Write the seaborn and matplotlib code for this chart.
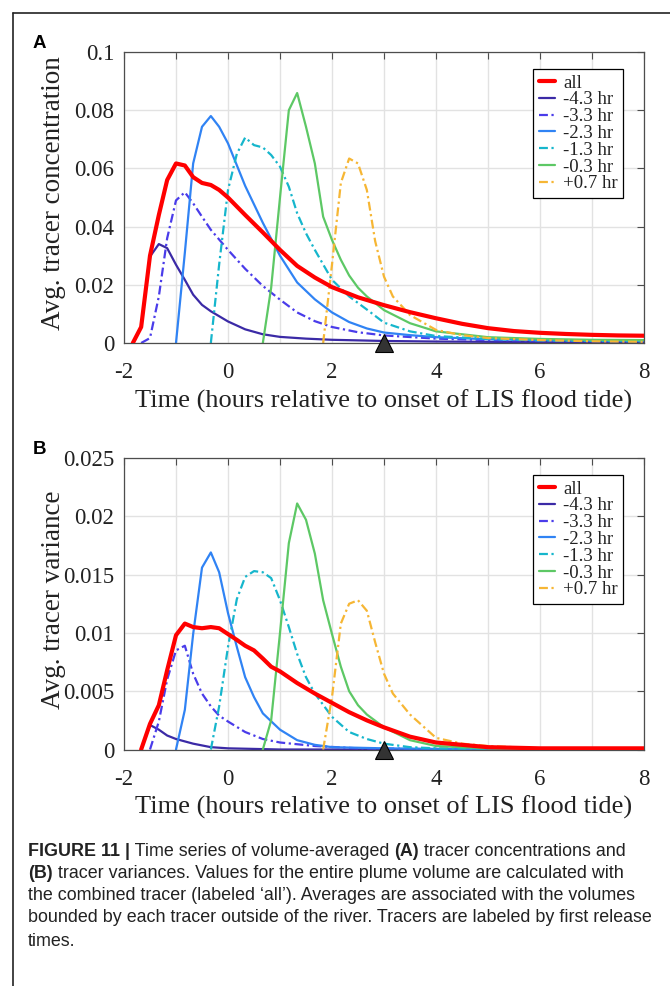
import matplotlib
matplotlib.use("Agg")
import matplotlib.pyplot as plt
from matplotlib.lines import Line2D
import seaborn as sns
import numpy as np

# ---------------- data ----------------
series_labels = ["all", "-4.3 hr", "-3.3 hr", "-2.3 hr", "-1.3 hr", "-0.3 hr", "+0.7 hr"]

# Panel A: Avg. tracer concentration
A_all_t = [-1.83, -1.67, -1.5, -1.33, -1.17, -1.0, -0.83, -0.67, -0.5, -0.33, -0.17, 0.0, 0.33, 0.67, 1.0,
           1.33, 1.67, 2.0, 2.5, 3.0, 3.5, 4.0, 4.5, 5.0, 5.5, 6.0, 6.5, 7.0, 7.5, 8.0]
A_all_y = [0.0, 0.0055, 0.030, 0.044, 0.056, 0.0617, 0.061, 0.057, 0.055, 0.0543, 0.0526, 0.050, 0.044, 0.038,
           0.032, 0.0265, 0.0225, 0.0192, 0.0157, 0.0130, 0.0106, 0.0085, 0.0066, 0.0051, 0.0041, 0.0035,
           0.0031, 0.0028, 0.0026, 0.0025]
A_m43_t = [-1.83, -1.67, -1.5, -1.33, -1.17, -1.0, -0.83, -0.67, -0.5, -0.33, 0.0, 0.33, 0.67, 1.0, 1.5, 2.0,
           3.0, 4.0, 5.0, 6.0, 7.0, 8.0]
A_m43_y = [0.0, 0.0054, 0.0297, 0.034, 0.0326, 0.0269, 0.0217, 0.0166, 0.0131, 0.0109, 0.0074, 0.0047, 0.0030,
           0.0021, 0.0015, 0.0011, 0.0007, 0.0005, 0.0004, 0.0003, 0.0003, 0.0002]
A_m33_t = [-1.67, -1.5, -1.33, -1.17, -1.0, -0.83, -0.67, -0.5, -0.33, 0.0, 0.33, 0.67, 1.0, 1.33, 1.67, 2.0,
           2.5, 3.0, 4.0, 5.0, 6.0, 7.0, 8.0]
A_m33_y = [0.0, 0.0017, 0.016, 0.036, 0.049, 0.0518, 0.048, 0.0434, 0.0389, 0.032, 0.0255, 0.0196, 0.0149,
           0.0105, 0.0075, 0.0055, 0.0037, 0.0026, 0.0015, 0.0010, 0.0008, 0.0007, 0.0006]
A_m23_t = [-1.0, -0.83, -0.67, -0.5, -0.33, -0.17, 0.0, 0.33, 0.67, 1.0, 1.33, 1.67, 2.0, 2.33, 2.67, 3.0, 3.5,
           4.0, 5.0, 6.0, 7.0, 8.0]
A_m23_y = [0.0, 0.031, 0.0617, 0.0743, 0.078, 0.0743, 0.0686, 0.054, 0.0413, 0.030, 0.0208, 0.0150, 0.0105,
           0.0072, 0.0050, 0.0036, 0.0027, 0.0020, 0.0013, 0.0010, 0.0009, 0.0008]
A_m13_t = [-0.33, -0.17, 0.0, 0.17, 0.33, 0.5, 0.67, 0.83, 1.0, 1.17, 1.33, 1.5, 1.67, 2.0, 2.33, 2.67, 3.0,
           3.5, 4.0, 5.0, 6.0, 7.0, 8.0]
A_m13_y = [0.0, 0.027, 0.0526, 0.065, 0.0706, 0.068, 0.0672, 0.0646, 0.0606, 0.0537, 0.0446, 0.0377, 0.032,
           0.0217, 0.0160, 0.0115, 0.0070, 0.0040, 0.0024, 0.0014, 0.0009, 0.0007, 0.0006]
A_m03_t = [0.67, 0.83, 1.0, 1.17, 1.33, 1.5, 1.67, 1.83, 2.0, 2.17, 2.33, 2.5, 2.67, 3.0, 3.5, 4.0, 5.0, 6.0,
           7.0, 8.0]
A_m03_y = [0.0, 0.019, 0.050, 0.080, 0.0859, 0.0743, 0.0617, 0.0434, 0.0354, 0.0286, 0.0232, 0.0190, 0.0160,
           0.0113, 0.0068, 0.0040, 0.0020, 0.0014, 0.0011, 0.0010]
A_p07_t = [1.83, 2.0, 2.17, 2.33, 2.5, 2.67, 2.83, 3.0, 3.17, 3.5, 4.0, 4.5, 5.0, 6.0, 7.0, 8.0]
A_p07_y = [0.0, 0.027, 0.055, 0.0634, 0.0617, 0.0526, 0.035, 0.0228, 0.016, 0.0096, 0.0045, 0.0027, 0.0017,
           0.0010, 0.0006, 0.0004]

# Panel B: Avg. tracer variance
B_all_t = [-1.67, -1.5, -1.33, -1.17, -1.0, -0.83, -0.67, -0.5, -0.33, -0.17, 0.0, 0.17, 0.33, 0.5, 0.67, 0.83,
           1.0, 1.33, 1.67, 2.0, 2.33, 2.67, 3.0, 3.5, 4.0, 5.0, 6.0, 7.0, 8.0]
B_all_y = [0.0, 0.0022, 0.0038, 0.0068, 0.0098, 0.0108, 0.0105, 0.0104, 0.0105, 0.0104, 0.0099, 0.0094, 0.0089,
           0.0085, 0.0078, 0.0071, 0.0067, 0.0057, 0.0048, 0.0040, 0.0032, 0.0025, 0.0019, 0.0011, 0.0006,
           0.0002, 0.0001, 0.0001, 0.0001]
B_m43_t = [-1.67, -1.5, -1.33, -1.17, -1.0, -0.67, -0.33, 0.0, 0.5, 1.0, 2.0, 4.0, 8.0]
B_m43_y = [0.0, 0.0021, 0.0017, 0.0012, 0.0009, 0.0005, 0.0002, 0.0001, 0.00005, 0.0, 0.0, 0.0, 0.0]
B_m33_t = [-1.5, -1.33, -1.17, -1.0, -0.83, -0.67, -0.5, -0.33, -0.17, 0.0, 0.33, 0.67, 1.0, 1.67, 2.5, 4.0, 8.0]
B_m33_y = [0.0, 0.0024, 0.006, 0.0085, 0.0089, 0.0065, 0.0048, 0.0037, 0.0029, 0.0024, 0.0015, 0.0009, 0.0006,
           0.0003, 0.0001, 0.00005, 0.0]
B_m23_t = [-1.0, -0.83, -0.67, -0.5, -0.33, -0.17, 0.0, 0.17, 0.33, 0.5, 0.67, 1.0, 1.33, 1.67, 2.0, 3.0, 4.0, 8.0]
B_m23_y = [0.0, 0.0034, 0.0099, 0.0156, 0.0169, 0.0152, 0.0117, 0.0088, 0.0062, 0.0045, 0.0031, 0.0017, 0.0008,
           0.0004, 0.0002, 0.0001, 0.00005, 0.0]
B_m13_t = [-0.33, -0.17, 0.0, 0.17, 0.33, 0.5, 0.67, 0.83, 1.0, 1.17, 1.33, 1.5, 1.67, 2.0, 2.33, 2.67, 3.0, 3.5,
           4.0, 5.0, 8.0]
B_m13_y = [0.0, 0.0037, 0.0088, 0.0129, 0.0148, 0.0153, 0.0152, 0.0147, 0.0128, 0.0105, 0.0082, 0.0062, 0.0048,
           0.0028, 0.0015, 0.0009, 0.0005, 0.0002, 0.0001, 0.00005, 0.0]
B_m03_t = [0.67, 0.83, 1.0, 1.17, 1.33, 1.5, 1.67, 1.83, 2.0, 2.17, 2.33, 2.5, 2.67, 3.0, 3.5, 4.0, 5.0, 8.0]
B_m03_y = [0.0, 0.0025, 0.010, 0.0177, 0.0211, 0.0197, 0.0168, 0.0128, 0.0099, 0.0071, 0.0050, 0.0038, 0.0030,
           0.0019, 0.0008, 0.0003, 0.0001, 0.0]
B_p07_t = [1.83, 2.0, 2.17, 2.33, 2.5, 2.67, 2.83, 3.0, 3.17, 3.5, 4.0, 4.5, 5.0, 6.0, 8.0]
B_p07_y = [0.0, 0.0045, 0.0108, 0.0125, 0.0128, 0.0119, 0.0092, 0.0065, 0.0048, 0.0030, 0.0010, 0.0005, 0.0003,
           0.0001, 0.0]

marker_time = 3.0

x_ticks = [-2, -1, 0, 1, 2, 3, 4, 5, 6, 7, 8]
x_ticklabels = ["-2", "", "0", "", "2", "", "4", "", "6", "", "8"]
A_yticks = [0, 0.02, 0.04, 0.06, 0.08, 0.1]
A_yticklabels = ["0", "0.02", "0.04", "0.06", "0.08", "0.1"]
B_yticks = [0, 0.005, 0.01, 0.015, 0.02, 0.025]
B_yticklabels = ["0", "0.005", "0.01", "0.015", "0.02", "0.025"]

panel_A = [(A_all_t, A_all_y), (A_m43_t, A_m43_y), (A_m33_t, A_m33_y), (A_m23_t, A_m23_y),
           (A_m13_t, A_m13_y), (A_m03_t, A_m03_y), (A_p07_t, A_p07_y)]
panel_B = [(B_all_t, B_all_y), (B_m43_t, B_m43_y), (B_m33_t, B_m33_y), (B_m23_t, B_m23_y),
           (B_m13_t, B_m13_y), (B_m03_t, B_m03_y), (B_p07_t, B_p07_y)]

# ---------------- style ----------------
sns.set_style("white")
plt.rcParams["font.family"] = ["Liberation Serif", "DejaVu Serif"]
plt.rcParams["axes.unicode_minus"] = False

colors = ["#ff0000", "#3b2aa6", "#4a3cea", "#3083f4", "#16b6cc", "#5dc865", "#f6b634"]
dashdot = (0, (4.0, 1.6, 1.0, 1.6))
styles = ["-", "-", dashdot, "-", dashdot, "-", dashdot]
widths = [3.0, 1.6, 1.6, 1.6, 1.6, 1.6, 1.6]
AX = "#4d4d4d"
TXT = "#222222"

W, H = 670, 986
fig = plt.figure(figsize=(W / 100, H / 100), dpi=100)


def fx(px):
    return px / W


def fy(py):
    return 1 - py / H


def make_panel(top_px, bottom_px, data, yticks, yticklabels, ylabel, letter):
    ax = fig.add_axes([fx(124), fy(bottom_px), fx(644) - fx(124), fy(top_px) - fy(bottom_px)])
    for (t, y), lab, c, ls, lw in zip(data, series_labels, colors, styles, widths):
        sns.lineplot(x=t, y=y, ax=ax, color=c, linestyle=ls, linewidth=lw, label=lab,
                     estimator=None, sort=False, zorder=3 if lab == "all" else 2)
    ax.plot([marker_time], [0], marker="^", markersize=12.5, markerfacecolor="#333333",
            markeredgecolor="black", markeredgewidth=0.8, clip_on=False, zorder=10, linestyle="none")
    ax.set_xlim(-2, 8)
    ax.set_ylim(yticks[0], yticks[-1])
    ax.set_xticks(x_ticks)
    ax.set_xticklabels(x_ticklabels)
    ax.set_yticks(yticks)
    ax.set_yticklabels(yticklabels)
    ax.grid(True, color="#e2e2e2", linewidth=1.0, zorder=0)
    ax.set_axisbelow(True)
    for s in ax.spines.values():
        s.set_color(AX)
        s.set_linewidth(0.9)
        s.set_visible(True)
    ax.tick_params(direction="in", length=5, width=0.8, color=AX, top=True, right=True,
                   labelsize=16.5, labelcolor=TXT)
    ax.tick_params(axis="y", pad=7)
    ax.tick_params(axis="x", pad=14)
    ax.set_xlabel("")
    ax.set_ylabel("")
    handles, labels = ax.get_legend_handles_labels()
    leg = ax.legend(handles, labels, loc="upper right",
                    bbox_to_anchor=(0.96, (bottom_px - (top_px + 17)) / (bottom_px - top_px)),
                    frameon=True, fancybox=False, edgecolor="black", framealpha=1, fontsize=13.5,
                    handlelength=0.9, handletextpad=0.4, labelspacing=-0.02, borderpad=0.3,
                    borderaxespad=0)
    leg.get_frame().set_linewidth(0.9)
    for txt in leg.get_texts():
        txt.set_color(TXT)
    fig.text(fx(384), fy(bottom_px + 58), "Time (hours relative to onset of LIS flood tide)",
             ha="center", va="center", fontsize=19, color=TXT)
    fig.text(fx(53), fy((top_px + bottom_px) / 2 - 4), ylabel, rotation=90, ha="center", va="center",
             fontsize=19.5, color=TXT)
    fig.text(fx(39), fy(top_px - 9), letter, ha="center", va="center", fontsize=13.5, fontweight="bold",
             family=["Liberation Sans", "DejaVu Sans"], color="black")
    return ax


axA = make_panel(52, 343, panel_A, A_yticks, A_yticklabels, "Avg. tracer concentration", "A")
axB = make_panel(458, 749.5, panel_B, B_yticks, B_yticklabels, "Avg. tracer variance", "B")

# outer frame (top and left)
fig.add_artist(Line2D([fx(13), 1], [fy(13), fy(13)], transform=fig.transFigure, color=TXT, lw=1.2))
fig.add_artist(Line2D([fx(13), fx(13)], [fy(13), 0], transform=fig.transFigure, color=TXT, lw=1.2))

# caption with mixed bold segments
caption_lines = [
    [("FIGURE 11 |", True), (" Time series of volume-averaged ", False), ("(A)", True),
     (" tracer concentrations and", False)],
    [("(B)", True), (" tracer variances. Values for the entire plume volume are calculated with", False)],
    [("the combined tracer (labeled \u2018all\u2019). Averages are associated with the volumes", False)],
    [("bounded by each tracer outside of the river. Tracers are labeled by first release", False)],
    [("times.", False)],
]
cap_y = [851, 874, 896, 918, 941]
cap_fs = 12.9
renderer = fig.canvas.get_renderer()
for segs, yy in zip(caption_lines, cap_y):
    xpos = 28
    for s, bold in segs:
        t = fig.text(fx(xpos), fy(yy), s, ha="left", va="center", fontsize=cap_fs,
                     fontweight="bold" if bold else "normal",
                     family=["Liberation Sans", "DejaVu Sans"], color=TXT)
        bb = t.get_window_extent(renderer)
        xpos += bb.width

fig.savefig("out.png", dpi=100)
